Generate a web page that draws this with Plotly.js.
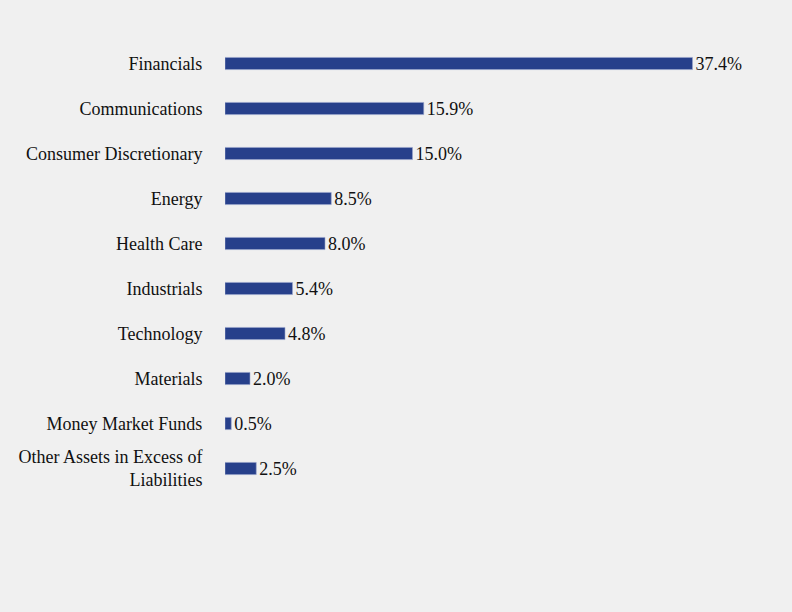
<!DOCTYPE html>
<html>
<head>
<meta charset="utf-8">
<script src="https://cdn.plot.ly/plotly-3.0.1.min.js"></script>
<style>
  html, body { margin: 0; padding: 0; background: #f0f0f0; }
  #chart { width: 792px; height: 612px; }
</style>
</head>
<body>
<div id="chart"></div>
<script>
var sectors = ['Financials', 'Communications', 'Consumer Discretionary', 'Energy', 'Health Care',
  'Industrials', 'Technology', 'Materials', 'Money Market Funds', 'Other Assets in Excess of<br>Liabilities'];
var weights = [37.4, 15.9, 15.0, 8.5, 8.0, 5.4, 4.8, 2.0, 0.5, 2.5];
var labels = weights.map(function (v) { return v.toFixed(1) + '%'; });

var serif = '"Liberation Serif", "Times New Roman", Times, serif';

var data = [{
  type: 'bar',
  orientation: 'h',
  x: weights,
  y: sectors,
  text: labels,
  textposition: 'outside',
  constraintext: 'none',
  cliponaxis: false,
  textfont: { family: serif, size: 18, color: '#111' },
  marker: { color: '#27408b', line: { color: '#9aa6cc', width: 0.6 } },
  hoverinfo: 'none'
}];

var layout = {
  width: 792,
  height: 612,
  paper_bgcolor: '#f0f0f0',
  plot_bgcolor: '#f0f0f0',
  margin: { l: 225, r: 67, t: 41, b: 121 },
  bargap: 0.73,
  showlegend: false,
  font: { family: serif, size: 18, color: '#111' },
  xaxis: {
    range: [0, 40],
    visible: false,
    showgrid: false,
    zeroline: false
  },
  yaxis: {
    autorange: 'reversed',
    showgrid: false,
    zeroline: false,
    showline: false,
    ticks: 'outside',
    ticklen: 18,
    tickcolor: 'rgba(0,0,0,0)',
    tickfont: { family: serif, size: 18, color: '#111' }
  }
};

Plotly.newPlot('chart', data, layout, { displayModeBar: false, staticPlot: true });
</script>
</body>
</html>
